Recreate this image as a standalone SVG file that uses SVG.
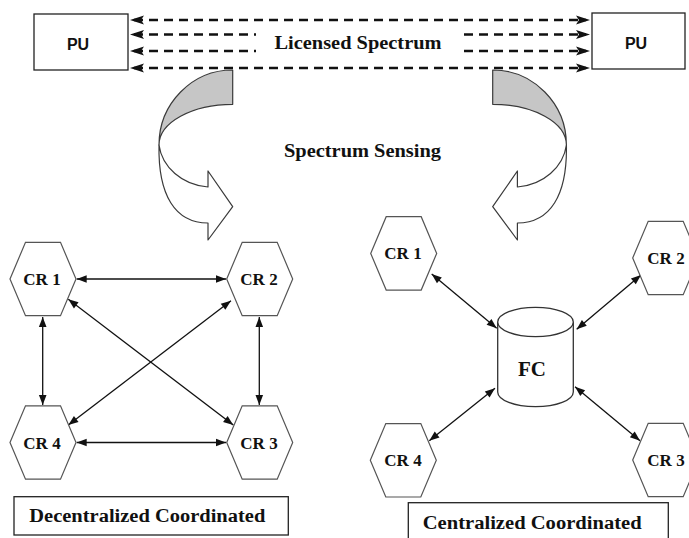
<svg xmlns="http://www.w3.org/2000/svg" xmlns:xlink="http://www.w3.org/1999/xlink" width="689" height="538" viewBox="0 0 689 538">
  <style>
    .box { fill: #fff; stroke: #222; stroke-width: 1.3; }
    .hex { fill: #fff; stroke: #555; stroke-width: 1.2; }
    .cyl { fill: #fff; stroke: #333; stroke-width: 1.3; }
    .serif { font-family: "Liberation Serif", "Times New Roman", serif; font-weight: bold; fill: #111; }
    .sans { font-family: "Liberation Sans", Arial, sans-serif; font-weight: bold; fill: #111; }
    .cr { font-size: 17px; text-anchor: middle; }
    .dash { stroke: #111; stroke-width: 2.6; stroke-dasharray: 9 6; fill: none; marker-start: url(#bigHead); marker-end: url(#bigHead); }
    .link { stroke: #111; stroke-width: 1.3; fill: none; marker-start: url(#head); marker-end: url(#head); }
    .back { fill: #c6c6c6; stroke: #3a3a3a; stroke-width: 1.2; stroke-linejoin: round; }
    .front { fill: #fff; stroke: #3a3a3a; stroke-width: 1.2; stroke-linejoin: round; }
  </style>
  <defs>
    <marker id="bigHead" markerUnits="userSpaceOnUse" viewBox="-12 -6 18 12" refX="0" refY="0" markerWidth="18" markerHeight="12" orient="auto-start-reverse">
      <path d="M4,0 L-10,-4.6 L-7,0 L-10,4.6 Z" fill="#111"/>
    </marker>
    <marker id="head" markerUnits="userSpaceOnUse" viewBox="-11 -5 12 10" refX="0" refY="0" markerWidth="12" markerHeight="10" orient="auto-start-reverse">
      <path d="M0,0 L-10,-3.8 L-10,3.8 Z" fill="#111"/>
    </marker>
    <polygon id="hexShape" class="hex" points="-33,0 -17.5,-36.7 17.5,-36.7 33,0 17.5,36.7 -17.5,36.7"/>
    <!-- one curved "sensing" arrow: shaded back face + white front face -->
    <g id="curl">
      <path class="back" d="M232.7,70 C192,70 159,103.6 159,145 C159,122.5 192,104.3 232.7,104.3 Z"/>
      <path class="front" d="M159,145 C158,195 175,223 208,223 L208,240 L232.7,206.7 L208,171 L208,187 C182,185 162,167 159,145 Z"/>
    </g>
  </defs>

  <rect width="689" height="538" fill="#fff"/>

  <!-- primary users and the licensed band -->
  <g id="pu-left">
    <rect class="box" x="34" y="14" width="94" height="56"/>
    <text class="sans" x="78" y="50" font-size="16" text-anchor="middle">PU</text>
  </g>
  <g id="pu-right">
    <rect class="box" x="592" y="13" width="93" height="56"/>
    <text class="sans" x="636" y="49" font-size="16" text-anchor="middle">PU</text>
  </g>

  <g id="connectors">
    <!-- licensed spectrum channels -->
    <line class="dash" x1="134" y1="20" x2="586" y2="20"/>
    <line class="dash" x1="134" y1="34.5" x2="586" y2="34.5"/>
    <line class="dash" x1="134" y1="51" x2="586" y2="51"/>
    <line class="dash" x1="134" y1="68" x2="586" y2="68"/>

    <!-- decentralized mesh -->
    <line class="link" x1="76.7" y1="279" x2="226" y2="279"/>
    <line class="link" x1="76.7" y1="442.5" x2="226" y2="442.5"/>
    <line class="link" x1="42.7" y1="317" x2="42.7" y2="405"/>
    <line class="link" x1="259.3" y1="317" x2="259.3" y2="405"/>
    <line class="link" x1="68.3" y1="299.3" x2="233.3" y2="425"/>
    <line class="link" x1="231" y1="300.7" x2="68.3" y2="425"/>

    <!-- centralized star -->
    <line class="link" x1="431.7" y1="274" x2="496.7" y2="328.3"/>
    <line class="link" x1="641" y1="275" x2="576.7" y2="329.3"/>
    <line class="link" x1="429.3" y1="440.7" x2="495" y2="388.3"/>
    <line class="link" x1="640" y1="440.7" x2="575" y2="386.7"/>
  </g>

  <g id="band-label">
    <rect x="256" y="27" width="207" height="33" fill="#fff"/>
    <text class="serif" x="274.5" y="49" font-size="19" textLength="167" lengthAdjust="spacingAndGlyphs">Licensed Spectrum</text>
  </g>

  <!-- spectrum sensing arrows -->
  <g id="sensing">
    <use xlink:href="#curl"/>
    <use xlink:href="#curl" transform="matrix(-1,0,0,1,725.4,0)"/>
    <text class="serif" x="284" y="157" font-size="18" textLength="157" lengthAdjust="spacingAndGlyphs">Spectrum Sensing</text>
  </g>

  <!-- decentralized coordinated network -->
  <g id="d-cr1"><use xlink:href="#hexShape" x="43" y="279"/><text class="serif cr" x="42" y="285">CR 1</text></g>
  <g id="d-cr2"><use xlink:href="#hexShape" x="259.7" y="279"/><text class="serif cr" x="259" y="285">CR 2</text></g>
  <g id="d-cr3"><use xlink:href="#hexShape" x="259.7" y="442.5"/><text class="serif cr" x="259" y="448.5">CR 3</text></g>
  <g id="d-cr4"><use xlink:href="#hexShape" x="43" y="442.5"/><text class="serif cr" x="42" y="448.5">CR 4</text></g>

  <!-- centralized coordinated network -->
  <g id="c-cr1"><use xlink:href="#hexShape" x="403.7" y="253.4"/><text class="serif cr" x="403" y="259.4">CR 1</text></g>
  <g id="c-cr2"><use xlink:href="#hexShape" x="665.7" y="258"/><text class="serif cr" x="666" y="264">CR 2</text></g>
  <g id="c-cr3"><use xlink:href="#hexShape" x="665.7" y="460"/><text class="serif cr" x="666" y="466">CR 3</text></g>
  <g id="c-cr4"><use xlink:href="#hexShape" x="403.3" y="460.3"/><text class="serif cr" x="403" y="466.3">CR 4</text></g>

  <g id="fc">
    <path class="cyl" d="M497.7,322 L497.7,392 A37.8,14.7 0 0 0 573.3,392 L573.3,322"/>
    <ellipse class="cyl" cx="535.5" cy="322" rx="37.8" ry="14.7"/>
    <text class="serif" x="532" y="375.5" font-size="21" text-anchor="middle">FC</text>
  </g>

  <!-- captions -->
  <g id="caption-decentralized">
    <rect class="box" x="14" y="496.7" width="274.3" height="38.3"/>
    <text class="serif" x="29.3" y="521.7" font-size="18.5" textLength="236" lengthAdjust="spacingAndGlyphs">Decentralized Coordinated</text>
  </g>
  <g id="caption-centralized">
    <rect class="box" x="408.3" y="502.7" width="260" height="40"/>
    <text class="serif" x="422.7" y="529.3" font-size="18.5" textLength="219" lengthAdjust="spacingAndGlyphs">Centralized Coordinated</text>
  </g>
</svg>
